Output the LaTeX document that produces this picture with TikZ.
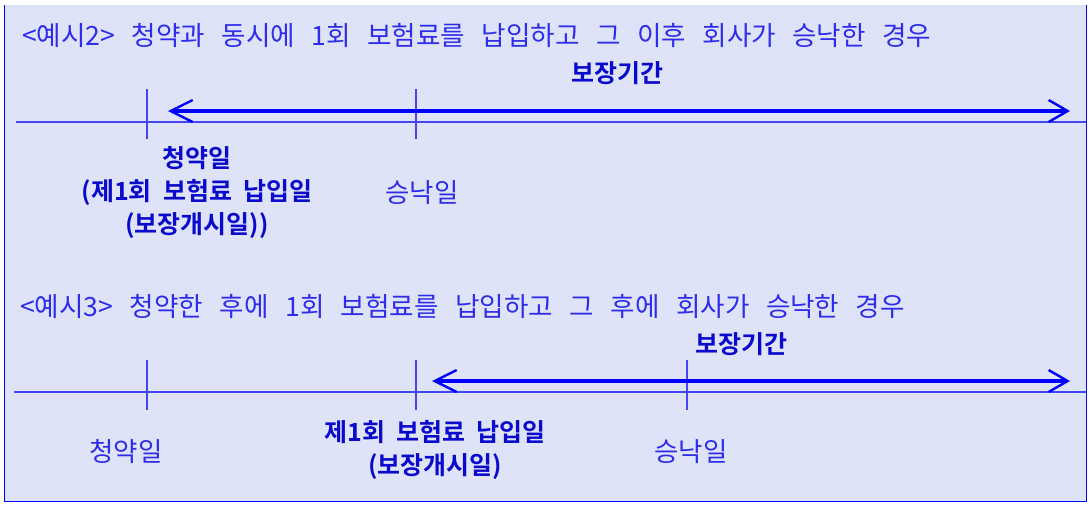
\documentclass[tikz,border=0pt]{standalone}
\usepackage{fontspec}
\setmainfont{Noto Sans CJK KR}[BoldFont={Noto Sans CJK KR Bold}]
\usepackage{xcolor}
\usetikzlibrary{arrows.meta}

\definecolor{paneblue}{RGB}{223,227,247}
\definecolor{lineblue}{RGB}{70,70,240}
\definecolor{textblue}{RGB}{45,45,235}
\definecolor{darkblue}{RGB}{10,10,205}

\begin{document}
\begin{tikzpicture}[x=1pt,y=-1pt,
    frame/.style={blue, line width=1pt},
    axis/.style={lineblue, line width=1.3pt},
    period/.style={blue, line width=3.6pt, {Straight Barb[length=22pt,width=22pt,line width=2.4pt]}-{Straight Barb[length=19pt,width=22pt,line width=2.4pt]}},
    caption/.style={textblue, anchor=base west, inner sep=0pt, font={\fontsize{26.6}{30}\selectfont\spaceskip=0.62em\relax}},
    plain/.style={textblue, font=\fontsize{26.5}{33}\selectfont},
    strong/.style={darkblue, align=center, font={\fontsize{25}{33}\selectfont\bfseries\spaceskip=0.45em\relax}}]
                \useasboundingbox (0,0) rectangle (1089,504);
                \fill[paneblue] (4,5) rectangle (1086,501);
                \draw[frame] (4,5) -- (4,501) -- (1086,501) -- (1086,5);
                % example 2
                \node[caption] (title2) at (22,45) {<예시2> 청약과 동시에 1회 보험료를 납입하고 그 이후 회사가 승낙한 경우};
                \coordinate (axis2a) at (16,122);
                \coordinate (axis2b) at (1086,122);
                \draw[axis] (axis2a) -- (axis2b);
                \foreach \x in {147,416} \draw[axis] (\x,89) -- (\x,139);
                \coordinate (start2) at (168,111);
                \coordinate (end2) at (1070,111);
                \draw[period] (start2) -- (end2);
                \node[strong] (cover2) at (617,73) {보장기간};
                \node[strong] (sign2) at (197,193) {청약일\\(제1회 보험료 납입일\\(보장개시일))};
                \node[plain] (accept2) at (422,193) {승낙일};
                % example 3
                \node[caption] (title3) at (20,316) {<예시3> 청약한 후에 1회 보험료를 납입하고 그 후에 회사가 승낙한 경우};
                \coordinate (axis3a) at (14,392);
                \coordinate (axis3b) at (1086,392);
                \draw[axis] (axis3a) -- (axis3b);
                \foreach \x in {147,416,687} \draw[axis] (\x,360) -- (\x,410);
                \coordinate (start3) at (432,381);
                \coordinate (end3) at (1070,381);
                \draw[period] (start3) -- (end3);
                \node[strong] (cover3) at (741,344) {보장기간};
                \node[plain] (sign3) at (126,452) {청약일};
                \node[strong] (pay3) at (435,450) {제1회 보험료 납입일\\(보장개시일)};
                \node[plain] (accept3) at (691,452) {승낙일};
\end{tikzpicture}
\end{document}
